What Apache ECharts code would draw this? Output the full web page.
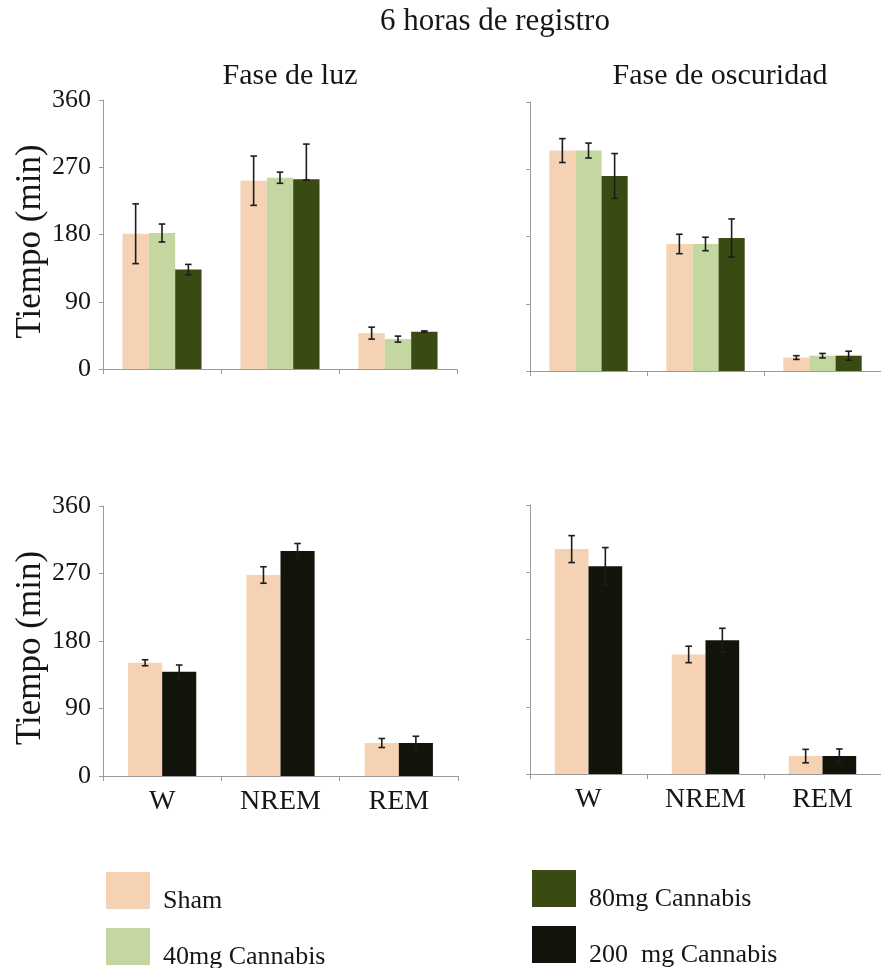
<!DOCTYPE html>
<html>
<head>
<meta charset="utf-8">
<script src="https://cdn.jsdelivr.net/npm/echarts@6/dist/echarts.min.js"></script>
<style>
  html, body { margin: 0; padding: 0; background: #ffffff; }
  #chart { width: 881px; height: 968px; }
</style>
</head>
<body>
<div id="chart"></div>
<script>
// Sleep stages and the y scale (minutes over 6 h of recording)
const categories = ['W', 'NREM', 'REM'];
const yMin = 0, yMax = 360, yStep = 90;

// Light phase, dose-response experiment (mean, SEM)
const luzSham = [181, 252, 48];
const luzShamErr = [40, 33, 8];
const luz40 = [182, 256, 40];
const luz40Err = [12, 7.5, 4];
const luz80 = [133, 254, 50];
const luz80ErrHigh = [7, 47, 1];
const luz80ErrLow = [7, 1, 1];

// Dark phase, dose-response experiment
const oscSham = [295, 170, 18];
const oscShamErr = [16, 13, 2.5];
const osc40 = [295, 170, 20.5];
const osc40Err = [10, 9, 3];
const osc80 = [261, 178, 20.5];
const osc80Err = [30, 25.5, 6];

// Light phase, 200 mg experiment
const luzSham2 = [151, 268, 44];
const luzSham2Err = [4, 11, 6];
const luz200 = [139, 300, 44];
const luz200Err = [9, 10, 9];

// Dark phase, 200 mg experiment
const oscSham2 = [301, 160, 24];
const oscSham2Err = [18, 11, 9];
const osc200 = [278, 179, 24];
const osc200Err = [25, 16, 9.5];

const colors = {
  'Sham': '#f4d2b3',
  '40mg Cannabis': '#c4d7a0',
  '80mg Cannabis': '#3a4a13',
  '200  mg Cannabis': '#12130b'
};

const FONT = '"Liberation Serif", "Times New Roman", serif';
const TEXT = '#161616';
const AXIS = '#9a9a9a';
const ERR = '#1c1c1c';

// grid boxes for the four panels
const grids = [
  { left: 103, top: 100, width: 354, height: 269 },
  { left: 530, top: 102, width: 354, height: 269 },
  { left: 103, top: 506, width: 355, height: 270 },
  { left: 530, top: 505, width: 354, height: 269 }
];

const panels = [
  { gap: 0.33, groups: [
    { name: 'Sham', values: luzSham, hi: luzShamErr, lo: luzShamErr },
    { name: '40mg Cannabis', values: luz40, hi: luz40Err, lo: luz40Err },
    { name: '80mg Cannabis', values: luz80, hi: luz80ErrHigh, lo: luz80ErrLow }
  ]},
  { gap: 0.33, groups: [
    { name: 'Sham', values: oscSham, hi: oscShamErr, lo: oscShamErr },
    { name: '40mg Cannabis', values: osc40, hi: osc40Err, lo: osc40Err },
    { name: '80mg Cannabis', values: osc80, hi: osc80Err, lo: osc80Err }
  ]},
  { gap: 0.424, groups: [
    { name: 'Sham', values: luzSham2, hi: luzSham2Err, lo: luzSham2Err },
    { name: '200  mg Cannabis', values: luz200, hi: luz200Err, lo: luz200Err }
  ]},
  { gap: 0.424, groups: [
    { name: 'Sham', values: oscSham2, hi: oscSham2Err, lo: oscSham2Err },
    { name: '200  mg Cannabis', values: osc200, hi: osc200Err, lo: osc200Err }
  ]}
];

// whiskers with caps, centred on the slot of each bar inside its category
function errorBars(slot, count, gap) {
  return function (params, api) {
    const ci = api.value(0);
    const low = api.coord([ci, api.value(2)]);
    const high = api.coord([ci, api.value(3)]);
    const band = api.size([1, 0])[0];
    const bw = band * (1 - gap) / count;
    const x = low[0] + (slot - (count - 1) / 2) * bw;
    const cap = 3.3;
    const style = { stroke: ERR, lineWidth: 1.6 };
    return {
      type: 'group',
      children: [
        { type: 'line', shape: { x1: x, y1: low[1], x2: x, y2: high[1] }, style: style },
        { type: 'line', shape: { x1: x - cap, y1: high[1], x2: x + cap, y2: high[1] }, style: style },
        { type: 'line', shape: { x1: x - cap, y1: low[1], x2: x + cap, y2: low[1] }, style: style }
      ]
    };
  };
}

const xAxes = [], yAxes = [], series = [];
panels.forEach(function (p, g) {
  const bottomRow = g >= 2;
  const leftCol = g % 2 === 0;
  xAxes.push({
    type: 'category', gridIndex: g, data: categories,
    axisLine: { lineStyle: { color: AXIS, width: 1 } },
    axisTick: { show: true, length: 5, lineStyle: { color: AXIS } },
    axisLabel: { show: bottomRow, margin: 12, fontFamily: FONT, fontSize: 28, color: TEXT }
  });
  yAxes.push({
    type: 'value', gridIndex: g, min: yMin, max: yMax, interval: yStep,
    name: leftCol ? 'Tiempo (min)' : '',
    nameLocation: 'middle', nameGap: 55,
    nameTextStyle: { fontFamily: FONT, fontSize: 35, color: TEXT, padding: [0, 14, 0, 0] },
    splitLine: { show: false },
    axisLine: { show: true, lineStyle: { color: AXIS, width: 1 } },
    axisTick: { show: true, length: 4, lineStyle: { color: AXIS } },
    axisLabel: { show: leftCol, margin: 12, fontFamily: FONT, fontSize: 26, color: TEXT }
  });
  const n = p.groups.length;
  p.groups.forEach(function (s) {
    series.push({
      type: 'bar', name: s.name, xAxisIndex: g, yAxisIndex: g,
      data: s.values, barGap: '0%', barCategoryGap: (p.gap * 100) + '%',
      itemStyle: { color: colors[s.name] }, silent: true, z: 2
    });
  });
  p.groups.forEach(function (s, k) {
    series.push({
      type: 'custom', name: s.name + ' SEM', xAxisIndex: g, yAxisIndex: g,
      renderItem: errorBars(k, n, p.gap),
      encode: { x: 0, y: [1, 2, 3] },
      data: s.values.map(function (v, i) { return [i, v, v - s.lo[i], v + s.hi[i]]; }),
      silent: true, z: 5
    });
  });
});

// legend labels sit a little below the centre of their swatches
const legendBase = {
  orient: 'vertical', icon: 'rect', itemWidth: 44, itemHeight: 37, itemGap: 14,
  padding: 0, selectedMode: false, height: 140,
  formatter: '{t|{name}}',
  textStyle: {
    rich: { t: { fontFamily: FONT, fontSize: 26, color: TEXT, padding: [21, 0, 0, 8] } }
  }
};

const option = {
  backgroundColor: '#ffffff',
  animation: false,
  grid: grids,
  xAxis: xAxes,
  yAxis: yAxes,
  series: series,
  legend: [
    Object.assign({}, legendBase, { data: ['Sham', '40mg Cannabis'], left: 106, top: 872 }),
    Object.assign({}, legendBase, { data: ['80mg Cannabis', '200  mg Cannabis'], left: 532, top: 870 })
  ],
  graphic: [
    { type: 'text', x: 495, y: 22, silent: true,
      style: { text: '6 horas de registro', fontFamily: FONT, fontSize: 31, fill: TEXT, align: 'center', verticalAlign: 'middle' } },
    { type: 'text', x: 290, y: 76, silent: true,
      style: { text: 'Fase de luz', fontFamily: FONT, fontSize: 30, fill: TEXT, align: 'center', verticalAlign: 'middle' } },
    { type: 'text', x: 720, y: 76, silent: true,
      style: { text: 'Fase de oscuridad', fontFamily: FONT, fontSize: 30, fill: TEXT, align: 'center', verticalAlign: 'middle' } }
  ]
};

const chart = echarts.init(document.getElementById('chart'), null, { renderer: 'canvas' });
chart.setOption(option);
</script>
</body>
</html>
